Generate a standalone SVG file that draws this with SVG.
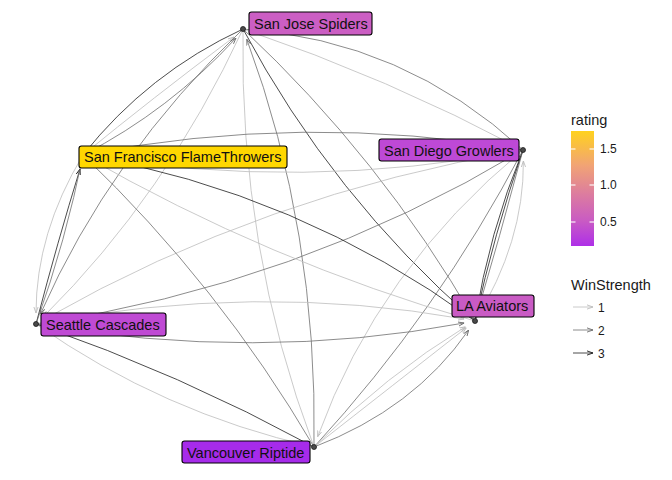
<svg xmlns="http://www.w3.org/2000/svg" width="672" height="480" viewBox="0 0 672 480">
<style>
.e{fill:none;stroke-width:0.8}
.w1{stroke:#bdbdbd}
.w2{stroke:#6e6e6e}
.w3{stroke:#1e1e1e}
.pt{fill:#4a4a4a;stroke:#1a1a1a;stroke-width:0.8}
.lb{stroke:#000;stroke-width:1.1}
.lt{font-family:"Liberation Sans",Arial,sans-serif;font-size:14.5px;fill:#111}
.lg{font-family:"Liberation Sans",Arial,sans-serif;fill:#1a1a1a}
</style>
<defs>
<marker id="a1" viewBox="0 0 6 6" refX="6" refY="3" markerWidth="6" markerHeight="6" markerUnits="userSpaceOnUse" orient="auto"><path d="M0,0.9 L6,3 L0,5.1" fill="none" stroke="#bdbdbd" stroke-width="0.9"/></marker>
<marker id="a2" viewBox="0 0 6 6" refX="6" refY="3" markerWidth="6" markerHeight="6" markerUnits="userSpaceOnUse" orient="auto"><path d="M0,0.9 L6,3 L0,5.1" fill="none" stroke="#6e6e6e" stroke-width="0.9"/></marker>
<marker id="a3" viewBox="0 0 6 6" refX="6" refY="3" markerWidth="6" markerHeight="6" markerUnits="userSpaceOnUse" orient="auto"><path d="M0,0.9 L6,3 L0,5.1" fill="none" stroke="#1e1e1e" stroke-width="0.9"/></marker>
<linearGradient id="cb" x1="0" y1="0" x2="0" y2="1">
<stop offset="0" stop-color="#FFD21E"/>
<stop offset="0.3" stop-color="#F1A375"/>
<stop offset="0.55" stop-color="#DC7C9F"/>
<stop offset="0.78" stop-color="#C95BC3"/>
<stop offset="1" stop-color="#AE2FE8"/>
</linearGradient>
</defs>
<rect width="672" height="480" fill="#fff"/>
<g id="connectors">
<path class="e w3" d="M243,29 Q148,73 83,155"/>
<path class="e w1" d="M83,155 Q150,100 234,37" marker-end="url(#a1)"/>
<path class="e w2" d="M83,155 Q170,110 236,38" marker-end="url(#a2)"/>
<path class="e w2" d="M243,29 Q404,40 523,150"/>
<path class="e w1" d="M243,29 Q388,78 523,150"/>
<path class="e w3" d="M243,29 Q332,196 475,321"/>
<path class="e w2" d="M243,29 Q381,158 475,321"/>
<path class="e w2" d="M314,447 Q318,231 246.8,39.3" marker-end="url(#a2)"/>
<path class="e w1" d="M243,29 Q239,248 314,447"/>
<path class="e w2" d="M243,29 Q110,156 40.4,314" marker-end="url(#a2)"/>
<path class="e w1" d="M243,29 Q166,195 43.8,316.3" marker-end="url(#a1)"/>
<path class="e w1" d="M475,321 Q524,242 523.4,161" marker-end="url(#a1)"/>
<path class="e w3" d="M523,150 Q489,233 475,321"/>
<path class="e w3" d="M523,150 Q494,234 475,321"/>
<path class="e w2" d="M523,150 Q500,236 475,321"/>
<path class="e w2" d="M83,155 Q303,112 523,150"/>
<path class="e w1" d="M523,150 Q303,192 83,155"/>
<path class="e w1" d="M523,150 Q264,194 45.6,318.6" marker-end="url(#a1)"/>
<path class="e w2" d="M36,324 Q297,286 523,150"/>
<path class="e w1" d="M523,150 Q378,270 317.7,436.7" marker-end="url(#a1)"/>
<path class="e w2" d="M523,150 Q438,312 314,447"/>
<path class="e w2" d="M314,447 Q414,409 468.7,330" marker-end="url(#a2)"/>
<path class="e w1" d="M314,447 Q394.5,384 466.3,327.8" marker-end="url(#a1)"/>
<path class="e w1" d="M314,447 Q387,374.5 465.6,326.7" marker-end="url(#a1)"/>
<path class="e w3" d="M83,155 Q298.5,192 475,321"/>
<path class="e w1" d="M475,321 Q269,262 83,155"/>
<path class="e w2" d="M83,155 Q219,285 314,447"/>
<path class="e w3" d="M36,324 Q58,240 80,169" marker-end="url(#a3)"/>
<path class="e w2" d="M83,155 Q66,240 36,324"/>
<path class="e w1" d="M83,155 Q36,233 36,313" marker-end="url(#a1)"/>
<path class="e w2" d="M36,324 Q255.5,362 464.2,323" marker-end="url(#a2)"/>
<path class="e w1" d="M36,324 Q255.5,282 464.2,319" marker-end="url(#a1)"/>
<path class="e w3" d="M36,324 Q180,374 314,447"/>
<path class="e w1" d="M314,447 Q163,413 36,324"/>
</g>
<g id="points">
<circle class="pt" cx="243" cy="29" r="2.5"/>
<circle class="pt" cx="523" cy="150" r="2.5"/>
<circle class="pt" cx="475" cy="321" r="2.5"/>
<circle class="pt" cx="314" cy="447" r="2.5"/>
<circle class="pt" cx="36" cy="324" r="2.5"/>
<circle class="pt" cx="83" cy="155" r="2.5"/>
</g>
<g id="node-sanjose">
<rect class="lb" x="249" y="12" width="123" height="23" rx="2.5" fill="#CB5EC3"/>
<text class="lt" x="254" y="29">San Jose Spiders</text>
</g>
<g id="node-sanfrancisco">
<rect class="lb" x="79" y="146" width="208" height="22" rx="2.5" fill="#FFD700"/>
<text class="lt" x="84" y="162">San Francisco FlameThrowers</text>
</g>
<g id="node-sandiego">
<rect class="lb" x="379" y="139" width="140" height="22" rx="2.5" fill="#BE49D6"/>
<text class="lt" x="384" y="156">San Diego Growlers</text>
</g>
<g id="node-la">
<rect class="lb" x="452" y="295" width="82" height="22" rx="2.5" fill="#C95BC4"/>
<text class="lt" x="456" y="311">LA Aviators</text>
</g>
<g id="node-seattle">
<rect class="lb" x="41" y="313" width="125" height="23" rx="2.5" fill="#BF4AD4"/>
<text class="lt" x="46" y="330">Seattle Cascades</text>
</g>
<g id="node-vancouver">
<rect class="lb" x="182" y="441" width="128" height="22" rx="2.5" fill="#A62BEA"/>
<text class="lt" x="187" y="458">Vancouver Riptide</text>
</g>
<g id="legend">
<text class="lg" x="571" y="125" font-size="14.5">rating</text>
<rect x="571" y="131" width="23" height="115" fill="url(#cb)"/>
<g stroke="#fff" stroke-width="1.1">
<line x1="571" y1="149" x2="575.5" y2="149"/><line x1="589.5" y1="149" x2="594" y2="149"/>
<line x1="571" y1="185" x2="575.5" y2="185"/><line x1="589.5" y1="185" x2="594" y2="185"/>
<line x1="571" y1="222" x2="575.5" y2="222"/><line x1="589.5" y1="222" x2="594" y2="222"/>
</g>
<text class="lg" x="600" y="153" font-size="12">1.5</text>
<text class="lg" x="600" y="189" font-size="12">1.0</text>
<text class="lg" x="600" y="226" font-size="12">0.5</text>
<text class="lg" x="571" y="290" font-size="14.5">WinStrength</text>
<line class="e w1" x1="573" y1="307" x2="593" y2="307" marker-end="url(#a1)"/>
<line class="e w2" x1="573" y1="330" x2="593" y2="330" marker-end="url(#a2)"/>
<line class="e w3" x1="573" y1="353" x2="593" y2="353" marker-end="url(#a3)"/>
<text class="lg" x="598" y="312" font-size="12">1</text>
<text class="lg" x="598" y="335" font-size="12">2</text>
<text class="lg" x="598" y="358" font-size="12">3</text>
</g>
</svg>
